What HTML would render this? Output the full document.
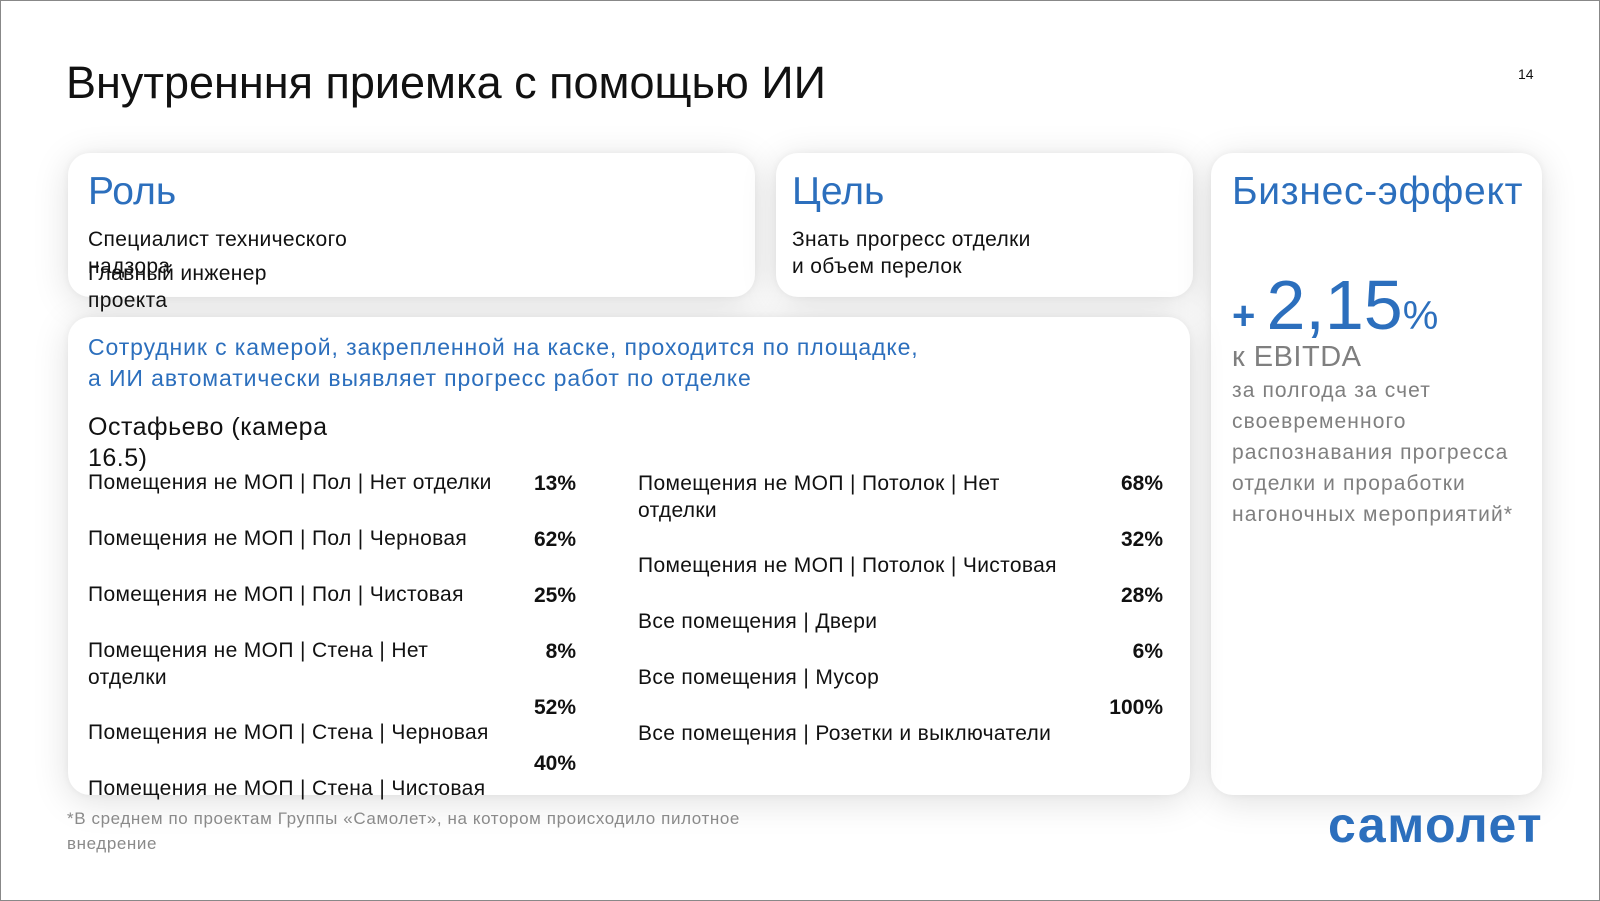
<!DOCTYPE html><html><head><meta charset="utf-8"><style>
body{margin:0;width:1600px;height:901px;overflow:hidden;background:#fff;font-family:"Liberation Sans","Noto Sans CJK SC",sans-serif;}
.frame{position:absolute;left:0;top:0;width:1598px;height:899px;border:1px solid #888;}
.a{position:absolute;white-space:nowrap;}
.card{position:absolute;background:#fff;border-radius:22px;box-shadow:0 6px 36px rgba(0,0,0,0.13),0 0 8px rgba(0,0,0,0.05);}
.b{color:#2c6fbd}
.t{font-size:21px;color:#111;line-height:27px;letter-spacing:0.35px}
.p{font-size:21px;color:#111;font-weight:bold;text-align:right;width:80px}
.g{color:#7f7f7f}
</style></head><body><div class="frame"></div>
<div class="a" style="left:66px;top:57px;font-size:45px;color:#111">Внутренння приемка с помощью ИИ</div>
<div class="a" style="left:1518px;top:66px;font-size:14px;color:#111">14</div>
<div class="card" style="left:68px;top:153px;width:687px;height:144px"></div>
<div class="card" style="left:776px;top:153px;width:417px;height:144px"></div>
<div class="card" style="left:1211px;top:153px;width:331px;height:642px"></div>
<div class="card" style="left:68px;top:317px;width:1122px;height:478px"></div>
<div class="a b" style="left:88px;top:170px;font-size:39px">Роль</div>
<div class="a t" style="left:88px;top:226px">Специалист технического<br>надзора</div>
<div class="a t" style="left:88px;top:260px">Главный инженер<br>проекта</div>
<div class="a b" style="left:792px;top:170px;font-size:39px">Цель</div>
<div class="a t" style="left:792px;top:226px">Знать прогресс отделки<br>и объем перелок</div>
<div class="a b" style="left:1232px;top:170px;font-size:39px;letter-spacing:0.7px">Бизнес-эффект</div>
<div class="a b" style="left:1232px;top:265px;font-size:40px"><b>+</b> <span style="font-size:70px">2,15</span>%</div>
<div class="a g" style="left:1232px;top:341px;font-size:29px;letter-spacing:0.5px">к EBITDA</div>
<div class="a g" style="left:1232px;top:375px;font-size:21px;line-height:31px;letter-spacing:1.1px">за полгода за счет<br>своевременного<br>распознавания прогресса<br>отделки и проработки<br>нагоночных мероприятий*</div>
<div class="a b" style="left:88px;top:332px;font-size:23px;line-height:31px;letter-spacing:0.9px">Сотрудник с камерой, закрепленной на каске, проходится по площадке,<br>а ИИ автоматически выявляет прогресс работ по отделке</div>
<div class="a" style="left:88px;top:412px;font-size:25px;line-height:31px;color:#111;letter-spacing:0.5px">Остафьево (камера<br>16.5)</div>
<div class="a t" style="left:88px;top:469px">Помещения не МОП | Пол | Нет отделки</div>
<div class="a t" style="left:88px;top:525px">Помещения не МОП | Пол | Черновая</div>
<div class="a t" style="left:88px;top:581px">Помещения не МОП | Пол | Чистовая</div>
<div class="a t" style="left:88px;top:637px">Помещения не МОП | Стена | Нет<br>отделки</div>
<div class="a t" style="left:88px;top:719px">Помещения не МОП | Стена | Черновая</div>
<div class="a t" style="left:88px;top:775px">Помещения не МОП | Стена | Чистовая</div>
<div class="a p" style="left:496px;top:472px">13%</div>
<div class="a p" style="left:496px;top:528px">62%</div>
<div class="a p" style="left:496px;top:584px">25%</div>
<div class="a p" style="left:496px;top:640px">8%</div>
<div class="a p" style="left:496px;top:696px">52%</div>
<div class="a p" style="left:496px;top:752px">40%</div>
<div class="a t" style="left:638px;top:470px">Помещения не МОП | Потолок | Нет<br>отделки</div>
<div class="a t" style="left:638px;top:552px">Помещения не МОП | Потолок | Чистовая</div>
<div class="a t" style="left:638px;top:608px">Все помещения | Двери</div>
<div class="a t" style="left:638px;top:664px">Все помещения | Мусор</div>
<div class="a t" style="left:638px;top:720px">Все помещения | Розетки и выключатели</div>
<div class="a p" style="left:1083px;top:472px">68%</div>
<div class="a p" style="left:1083px;top:528px">32%</div>
<div class="a p" style="left:1083px;top:584px">28%</div>
<div class="a p" style="left:1083px;top:640px">6%</div>
<div class="a p" style="left:1083px;top:696px">100%</div>
<div class="a g" style="left:67px;top:806px;font-size:17px;line-height:25px;color:#8a8a8a;letter-spacing:0.6px">*В среднем по проектам Группы «Самолет», на котором происходило пилотное<br>внедрение</div>
<div class="a b" style="left:1328px;top:796px;font-size:50px;font-weight:bold;letter-spacing:1.5px">самолет</div>
</body></html>
